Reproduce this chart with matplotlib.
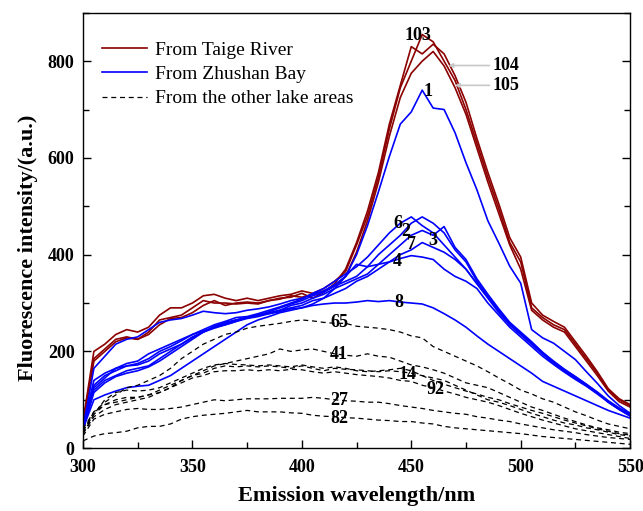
import numpy as np
import matplotlib
matplotlib.use("Agg")
import matplotlib.pyplot as plt
from matplotlib.ticker import MultipleLocator

plt.rcParams['font.family'] = ['Liberation Serif', 'DejaVu Serif']

wavelength = np.arange(300, 551, 5)

# From Taige River
taige_103 = [55, 200, 215, 235, 245, 240, 250, 275, 290, 290, 300, 315, 318, 310, 305, 310, 305, 310, 315, 318,
             325, 320, 330, 345, 365, 420, 480, 560, 660, 745, 800, 855, 840, 800, 760, 700, 630, 560, 495, 425,
             385, 290, 270, 255, 245, 215, 185, 155, 120, 100, 88]
taige_104 = [50, 185, 205, 225, 230, 225, 240, 265, 270, 275, 290, 305, 300, 300, 298, 300, 298, 305, 310, 312,
             320, 310, 322, 340, 370, 425, 490, 570, 670, 750, 830, 815, 835, 815, 770, 715, 640, 570, 505, 435,
             395, 300, 275, 262, 250, 220, 190, 158, 123, 102, 90]
taige_105 = [50, 180, 200, 220, 228, 225, 235, 255, 268, 270, 280, 295, 305, 295, 300, 302, 300, 305, 308, 315,
             312, 318, 325, 335, 355, 405, 470, 550, 645, 725, 775, 800, 820, 790, 745, 690, 620, 550, 485, 420,
             370, 285, 265, 250, 240, 210, 180, 150, 118, 96, 85]

# From Zhushan Bay
zhushan_1 = [40, 165, 190, 215, 225, 230, 245, 260, 265, 268, 275, 283, 280, 278, 280, 285, 288, 292, 298, 305,
             310, 318, 325, 338, 355, 400, 460, 530, 603, 670, 695, 740, 703, 700, 652, 590, 534, 470, 424, 376,
             341, 245, 228, 217, 200, 183, 158, 134, 108, 88, 72]
zhushan_2 = [42, 130, 150, 160, 170, 175, 185, 200, 210, 222, 235, 242, 250, 258, 265, 270, 275, 282, 290, 298,
             305, 315, 322, 335, 345, 355, 375, 400, 420, 440, 465, 478, 465, 445, 410, 385, 345, 315, 285, 258,
             238, 218, 198, 178, 162, 147, 132, 115, 97, 82, 70]
zhushan_3 = [40, 125, 145, 165, 170, 172, 180, 195, 205, 215, 230, 240, 248, 255, 262, 270, 275, 280, 285, 295,
             300, 310, 318, 330, 340, 350, 360, 380, 400, 420, 440, 450, 440, 458, 415, 390, 350, 318, 288, 260,
             240, 220, 198, 180, 163, 148, 132, 116, 98, 83, 70]
zhushan_4 = [38, 115, 135, 148, 155, 160, 168, 180, 195, 210, 225, 240, 252, 260, 265, 270, 275, 278, 282, 288,
             290, 298, 310, 330, 355, 380, 375, 380, 385, 392, 398, 395, 390, 370, 355, 345, 330, 300, 275, 250,
             230, 210, 190, 173, 157, 142, 128, 112, 95, 80, 66]
zhushan_6 = [45, 140, 155, 165, 175, 180, 195, 205, 215, 225, 235, 245, 255, 262, 270, 272, 278, 285, 292, 300,
             308, 320, 330, 345, 360, 375, 395, 420, 445, 465, 478, 460, 445, 420, 395, 370, 340, 310, 280, 255,
             235, 215, 195, 175, 160, 145, 130, 115, 95, 80, 68]
zhushan_7 = [40, 120, 140, 150, 160, 165, 170, 185, 200, 215, 228, 240, 250, 255, 262, 268, 272, 278, 285, 290,
             295, 305, 310, 320, 330, 345, 355, 370, 385, 400, 410, 425, 415, 405, 390, 370, 340, 312, 282, 255,
             235, 215, 195, 177, 160, 145, 130, 114, 96, 81, 68]
zhushan_8 = [40, 100, 110, 118, 125, 128, 130, 140, 150, 165, 180, 195, 210, 225, 240, 255, 265, 272, 280, 285,
             290, 295, 298, 300, 300, 302, 305, 303, 305, 302, 300, 298, 290, 278, 265, 250, 232, 215, 200, 185,
             170, 155, 138, 128, 118, 108, 98, 88, 78, 70, 62]

# From the other lake areas
other_65 = [40, 75, 95, 110, 125, 130, 140, 150, 165, 185, 200, 215, 225, 235, 240, 248, 252, 255, 258, 262,
            265, 263, 260, 258, 258, 252, 250, 248, 245, 240, 232, 228, 210, 200, 190, 180, 170, 158, 145, 133,
            120, 112, 102, 95, 85, 75, 67, 58, 50, 45, 40]
other_41 = [35, 70, 90, 100, 105, 105, 110, 115, 125, 140, 150, 160, 170, 175, 180, 185, 190, 195, 205, 200,
            203, 205, 200, 195, 192, 190, 195, 190, 188, 180, 172, 168, 162, 155, 145, 135, 130, 125, 115, 105,
            95, 85, 78, 70, 62, 55, 48, 42, 38, 33, 30]
other_x = [30, 70, 100, 115, 120, 118, 120, 125, 135, 145, 155, 165, 172, 175, 173, 172, 170, 172, 170, 168,
           172, 168, 165, 168, 165, 160, 158, 160, 162, 165, 160, 150, 140, 132, 125, 118, 112, 105, 100, 92,
           85, 78, 72, 65, 58, 52, 46, 40, 35, 30, 27]
other_14 = [35, 75, 90, 95, 100, 105, 110, 120, 130, 140, 150, 155, 165, 170, 168, 170, 168, 170, 168, 165,
            170, 165, 160, 165, 163, 162, 160, 158, 160, 158, 155, 150, 145, 140, 130, 120, 110, 100, 95, 88,
            80, 72, 65, 58, 52, 48, 42, 38, 33, 28, 25]
other_92 = [30, 65, 80, 90, 95, 100, 105, 115, 125, 135, 145, 150, 158, 160, 160, 162, 160, 162, 160, 163,
            162, 158, 155, 158, 155, 152, 150, 148, 145, 140, 138, 130, 125, 118, 112, 105, 100, 95, 88, 80,
            72, 65, 58, 52, 46, 40, 36, 32, 28, 24, 20]
other_27 = [25, 60, 70, 75, 80, 82, 80, 80, 82, 85, 90, 95, 100, 98, 100, 102, 102, 102, 103, 103,
            103, 105, 103, 100, 98, 97, 95, 95, 92, 88, 85, 82, 78, 75, 72, 70, 65, 62, 58, 55,
            50, 46, 42, 38, 35, 32, 28, 25, 22, 20, 18]
other_82 = [15, 25, 30, 32, 35, 42, 45, 45, 50, 60, 65, 68, 70, 72, 75, 78, 75, 75, 75, 73,
            72, 68, 66, 65, 63, 62, 60, 58, 57, 55, 55, 52, 50, 45, 42, 40, 38, 36, 34, 32,
            30, 27, 24, 22, 20, 18, 16, 14, 12, 10, 8]

taige = [taige_103, taige_104, taige_105]
zhushan = [zhushan_1, zhushan_2, zhushan_3, zhushan_4, zhushan_6, zhushan_7, zhushan_8]
others = [other_65, other_41, other_x, other_14, other_92, other_27, other_82]

legend_labels = ['From Taige River', 'From Zhushan Bay', 'From the other lake areas']

# curve labels: (text, wavelength, intensity)
curve_labels = [('103', 453, 853), ('1', 457.5, 738), ('6', 444, 465), ('2', 447.5, 448), ('7', 450, 421),
                ('3', 460, 430), ('4', 443.5, 386), ('8', 444.5, 302), ('65', 417, 259), ('41', 417, 193),
                ('14', 448.5, 152), ('92', 461, 121), ('27', 417, 99), ('82', 417, 62)]

fig = plt.figure(figsize=(6.43, 5.11), dpi=100)
ax = fig.add_axes([0.129, 0.123, 0.851, 0.852])

red = '#8B0000'
blue = '#0000FF'
for i, y in enumerate(taige):
    ax.plot(wavelength, y, color=red, lw=1.2, label=legend_labels[0] if i == 0 else None)
for i, y in enumerate(zhushan):
    ax.plot(wavelength, y, color=blue, lw=1.2, label=legend_labels[1] if i == 0 else None)
for i, y in enumerate(others):
    ax.plot(wavelength, y, color='black', lw=0.9, ls=(0, (4, 3)), label=legend_labels[2] if i == 0 else None)

for txt, wx, wy in curve_labels:
    ax.text(wx, wy, txt, fontsize=13, fontweight='bold', ha='center', va='center')

ax.annotate('104', xy=(467, 791), xytext=(487, 791), fontsize=13, fontweight='bold', va='center',
            arrowprops=dict(arrowstyle='-|>', color='#c8c8c8', lw=1.2, mutation_scale=6, shrinkA=0, shrinkB=0))
ax.annotate('105', xy=(470, 750), xytext=(487, 750), fontsize=13, fontweight='bold', va='center',
            arrowprops=dict(arrowstyle='-|>', color='#c8c8c8', lw=1.2, mutation_scale=6, shrinkA=0, shrinkB=0))

ax.set_xlim(300, 550)
ax.set_ylim(0, 900)
ax.xaxis.set_major_locator(MultipleLocator(50))
ax.xaxis.set_minor_locator(MultipleLocator(25))
ax.yaxis.set_major_locator(MultipleLocator(200))
ax.yaxis.set_minor_locator(MultipleLocator(100))
ax.tick_params(which='both', direction='in', right=True, top=False, labelsize=13)
ax.tick_params(which='major', length=6, width=1)
ax.tick_params(which='minor', length=4, width=1)
ax.tick_params(axis='x', pad=8)
ax.tick_params(axis='y', pad=6)
for lab in ax.get_xticklabels() + ax.get_yticklabels():
    lab.set_fontweight('bold')
for s in ax.spines.values():
    s.set_linewidth(1.0)

ax.set_xlabel('Emission wavelength/nm', fontsize=16, fontweight='bold', va='center')
ax.set_ylabel('Fluorescence intensity/(a.u.)', fontsize=16, fontweight='bold', va='center')
ax.xaxis.set_label_coords(0.5, -0.11)
ax.yaxis.set_label_coords(-0.10, 0.46)

ax.legend(loc='upper left', bbox_to_anchor=(0.0, 0.98), frameon=False, fontsize=14,
          handlelength=2.3, handletextpad=0.4, labelspacing=0.35, borderaxespad=0.6)

fig.savefig('out.png', dpi=100)
